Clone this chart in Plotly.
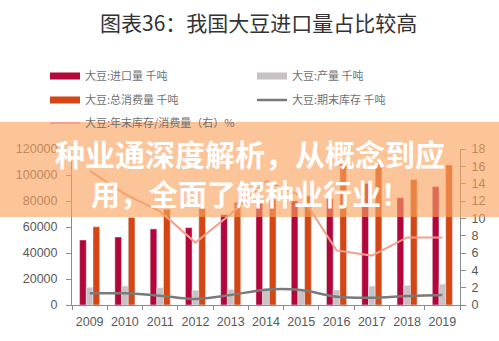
import plotly.graph_objects as go

# ---------------- data ----------------
years = ['2009', '2010', '2011', '2012', '2013', '2014', '2015', '2016', '2017', '2018', '2019']
imports = [50000, 52300, 58500, 59500, 69500, 78000, 80000, 82000, 93500, 82500, 91000]
production = [13600, 14600, 13300, 11300, 12000, 12500, 11800, 11500, 14600, 15100, 16000]
consumption = [60200, 67400, 73700, 74200, 79000, 82300, 84000, 109000, 109000, 96500, 107700]
ending_stock = [9000, 9000, 7200, 4600, 7700, 11800, 11500, 6400, 5600, 6900, 7700]
stock_ratio = [15.5, 12.8, 10.8, 7.2, 10.5, 14.3, 12.6, 6.3, 5.7, 7.8, 7.8]

names = ['大豆:进口量 千吨', '大豆:产量 千吨', '大豆:总消费量 千吨',
         '大豆:期末库存 千吨', '大豆:年末库存/消费量（右）%']
title_text = '图表36：我国大豆进口量占比较高'
overlay_line1 = '种业通深度解析，从概念到应'
overlay_line2 = '用，全面了解种业行业！'

# ---------------- geometry helpers ----------------
W, H = 499, 341
L, R, T, B = 72, 39, 149, 36
PW, PH = W - L - R, H - T - B


def px_x(px):
    return (px - L) / PW


def px_y(py):
    return (H - B - py) / PH


C_IMP = '#B3063A'
C_PROD = '#C9C2C4'
C_CONS = '#D64514'
C_STOCK = '#7A7A7A'
C_RATIO = '#F2A08C'
AX = '#8C8C8C'
TXT = '#595959'
TICKFONT = dict(family='Liberation Sans, Arial, sans-serif', size=12.5, color=TXT)
CJK = 'Noto Sans CJK SC, sans-serif'

fig = go.Figure()

fig.add_trace(go.Bar(x=years, y=imports, marker_color=C_IMP, showlegend=False, name=names[0]))
fig.add_trace(go.Bar(x=years, y=production, marker_color=C_PROD, showlegend=False, name=names[1]))
fig.add_trace(go.Bar(x=years, y=consumption, marker_color=C_CONS, showlegend=False, name=names[2]))

# legend swatches for bars
fig.add_trace(go.Scatter(x=[None], y=[None], mode='lines', line=dict(color=C_IMP, width=7),
                         name=names[0], legend='legend'))
fig.add_trace(go.Scatter(x=[None], y=[None], mode='lines', line=dict(color=C_PROD, width=7),
                         name=names[1], legend='legend'))
fig.add_trace(go.Scatter(x=[None], y=[None], mode='lines', line=dict(color=C_CONS, width=7),
                         name=names[2], legend='legend2'))

fig.add_trace(go.Scatter(x=years, y=ending_stock, mode='lines',
                         line=dict(color=C_STOCK, width=2.5, shape='spline', smoothing=0.8),
                         name=names[3], legend='legend2'))
fig.add_trace(go.Scatter(x=years, y=stock_ratio, mode='lines', yaxis='y2',
                         line=dict(color=C_RATIO, width=2),
                         name=names[4], legend='legend3'))

leg_common = dict(orientation='h', xanchor='left', yanchor='middle', x=px_x(45),
                  entrywidth=162, entrywidthmode='pixels', bgcolor='rgba(0,0,0,0)',
                  font=dict(family=CJK, size=11, color='#707070'), itemwidth=30)

fig.update_layout(
    width=W, height=H,
    margin=dict(l=L, r=R, t=T, b=B, autoexpand=False),
    paper_bgcolor='white', plot_bgcolor='white',
    barmode='group', bargap=0.43, bargroupgap=0,
    legend=dict(y=px_y(76), **leg_common),
    legend2=dict(y=px_y(100), **leg_common),
    legend3=dict(y=px_y(123), **leg_common),
    xaxis=dict(type='category', tickson='boundaries', ticks='outside', ticklen=4,
               showline=True, linecolor=AX, tickcolor=AX, showgrid=False,
               tickangle=0, tickfont=TICKFONT, ticklabelstandoff=5),
    yaxis=dict(range=[0, 120000], dtick=20000, tickformat='d', ticks='outside', ticklen=5,
               showline=True, linecolor=AX, tickcolor=AX, showgrid=False, zeroline=False,
               tickfont=TICKFONT, ticklabelstandoff=6),
    yaxis2=dict(range=[0, 18], dtick=2, overlaying='y', side='right', ticks='outside', ticklen=5,
                showline=True, linecolor=AX, tickcolor=AX, showgrid=False, zeroline=False,
                tickfont=TICKFONT, ticklabelstandoff=3),
    shapes=[dict(type='rect', xref='paper', yref='paper',
                 x0=px_x(0), x1=px_x(W), y0=px_y(217), y1=px_y(122),
                 fillcolor='rgba(248,162,96,0.64)', line=dict(width=0), layer='above')],
    annotations=[
        dict(text=title_text, xref='paper', yref='paper', x=px_x(258), y=px_y(22),
             xanchor='center', yanchor='middle', showarrow=False,
             font=dict(family=CJK, size=21, color='#333333')),
        dict(text='<b>' + overlay_line1 + '</b>', xref='paper', yref='paper',
             x=px_x(250), y=px_y(153), xanchor='center', yanchor='middle', showarrow=False,
             font=dict(family=CJK, size=30, color='white')),
        dict(text='<b>' + overlay_line2 + '</b>', xref='paper', yref='paper',
             x=px_x(250), y=px_y(193), xanchor='center', yanchor='middle', showarrow=False,
             font=dict(family=CJK, size=29, color='white')),
    ],
)

fig.write_html('out.html')
